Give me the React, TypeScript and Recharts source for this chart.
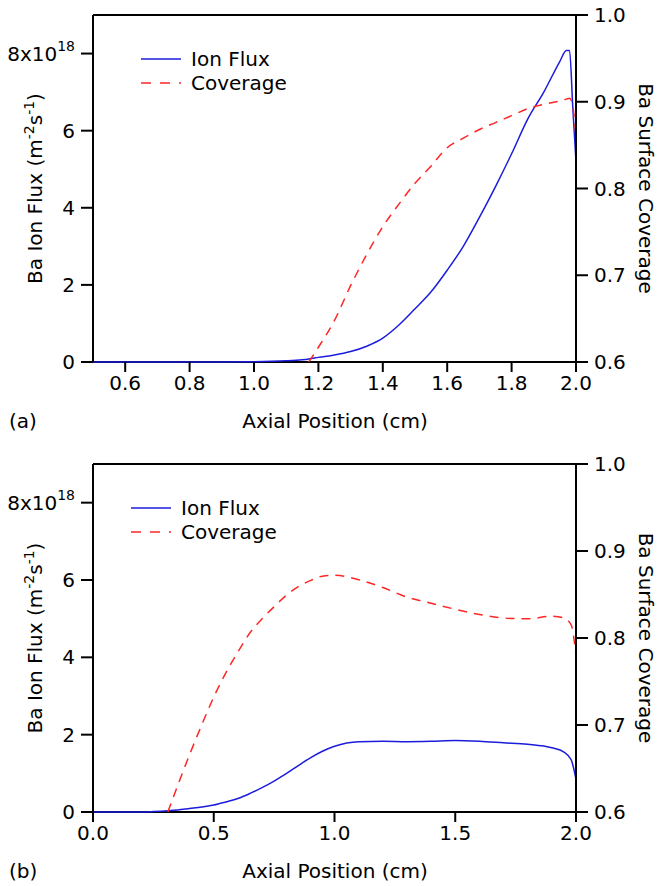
import React from 'react'
import { LineChart, Line, XAxis, YAxis, ReferenceLine, Legend } from 'recharts'

const FONT = '"DejaVu Sans", Verdana, sans-serif'
const FLUX_COLOR = '#1c1cdc'
const COV_COLOR = '#ff2626'

// panel (a): axial position (cm), ion flux (x10^18), coverage
const posA = [0.5, 0.6, 0.7, 0.8, 0.9, 1.0, 1.1, 1.15, 1.17, 1.2, 1.25, 1.3, 1.35, 1.4, 1.45, 1.5, 1.55, 1.6, 1.65, 1.7, 1.75, 1.8, 1.85, 1.9, 1.95, 1.97, 1.98, 1.99, 2.0]
const fluxA = [0, 0, 0, 0, 0, 0.005, 0.03, 0.06, 0.08, 0.12, 0.18, 0.27, 0.41, 0.62, 0.96, 1.38, 1.82, 2.38, 3.0, 3.75, 4.55, 5.4, 6.3, 7.0, 7.8, 8.08, 8.08, 6.6, 5.2]
const covA = [null, null, null, null, null, null, null, null, 0.6, 0.617, 0.648, 0.688, 0.724, 0.756, 0.782, 0.806, 0.826, 0.847, 0.858, 0.868, 0.876, 0.884, 0.892, 0.897, 0.901, 0.903, 0.904, 0.895, 0.86]

// panel (b)
const posB = [0, 0.1, 0.2, 0.25, 0.31, 0.35, 0.4, 0.45, 0.5, 0.55, 0.6, 0.65, 0.7, 0.75, 0.8, 0.85, 0.9, 0.95, 1.0, 1.1, 1.2, 1.3, 1.4, 1.5, 1.6, 1.7, 1.8, 1.9, 1.95, 1.98, 2.0]
const fluxB = [0, 0, 0, 0.01, 0.03, 0.05, 0.09, 0.13, 0.18, 0.26, 0.35, 0.48, 0.63, 0.8, 0.99, 1.2, 1.4, 1.57, 1.7, 1.82, 1.83, 1.82, 1.83, 1.85, 1.83, 1.79, 1.75, 1.66, 1.55, 1.35, 0.85]
const covB = [null, null, null, null, 0.6, 0.63, 0.666, 0.7, 0.732, 0.76, 0.784, 0.806, 0.822, 0.836, 0.849, 0.859, 0.866, 0.871, 0.872, 0.867, 0.858, 0.847, 0.84, 0.833, 0.827, 0.823, 0.822, 0.825, 0.823, 0.815, 0.78]

const fluxTicks = [0, 2, 4, 6, 8]
const covTicks = [0.6, 0.7, 0.8, 0.9, 1.0]
const xTicksA = [0.6, 0.8, 1.0, 1.2, 1.4, 1.6, 1.8, 2.0]
const xTicksB = [0, 0.5, 1.0, 1.5, 2.0]

const dataA = posA.map((x, i) => ({ x, flux: fluxA[i], cov: covA[i] }))
const dataB = posB.map((x, i) => ({ x, flux: fluxB[i], cov: covB[i] }))

const FS = 20
const tickFont = { fill: '#000', fontSize: FS, fontFamily: FONT }
const black = { stroke: '#000', strokeWidth: 2 }

function FluxTick({ x, y, payload }: any) {
  const v = payload.value
  return (
    <text x={x} y={y + 7} textAnchor="end" fontSize={FS} fontFamily={FONT} fill="#000">
      {v === 8 ? (
        <>
          8x10<tspan dy={-10} fontSize={14}>18</tspan>
        </>
      ) : (
        String(v)
      )}
    </text>
  )
}

function LegendBox() {
  const row = { display: 'flex', alignItems: 'center', height: 24 }
  return (
    <div style={{ fontFamily: FONT, fontSize: FS, color: '#000' }}>
      <div style={row}>
        <svg width={40} height={4}>
          <line x1={0} y1={2} x2={40} y2={2} stroke={FLUX_COLOR} strokeWidth={1.5} />
        </svg>
        <span style={{ marginLeft: 10 }}>Ion Flux</span>
      </div>
      <div style={row}>
        <svg width={40} height={4}>
          <line x1={0} y1={2} x2={40} y2={2} stroke={COV_COLOR} strokeWidth={1.5} strokeDasharray="10 9" />
        </svg>
        <span style={{ marginLeft: 10 }}>Coverage</span>
      </div>
    </div>
  )
}

function Titles({ tag, axisY, plotMid }: { tag: string; axisY: number; plotMid: number }) {
  return (
    <svg width={661} height={446} style={{ position: 'absolute', left: 0, top: 0, pointerEvents: 'none' }}>
      <g fontFamily={FONT} fontSize={FS} fill="#000">
        <text x={9} y={axisY + 66}>{tag}</text>
        <text x={335} y={axisY + 66} textAnchor="middle">Axial Position (cm)</text>
        <text x={42} y={plotMid} textAnchor="middle" transform={`rotate(-90, 42, ${plotMid})`}>
          Ba Ion Flux (m<tspan dy={-8} fontSize={14}>-2</tspan><tspan dy={8}>s</tspan><tspan dy={-8} fontSize={14}>-1</tspan><tspan dy={8}>)</tspan>
        </text>
        <text x={639} y={plotMid} textAnchor="middle" transform={`rotate(90, 639, ${plotMid})`}>
          Ba Surface Coverage
        </text>
      </g>
    </svg>
  )
}

function Panel({ data, xDomain, xTicks, top, height, marginTop, xHeight, legendLeft, tag }: any) {
  const axisY = height - xHeight
  const plotMid = (marginTop + axisY) / 2
  return (
    <div style={{ position: 'absolute', left: 0, top, width: 661, height }}>
      <LineChart width={661} height={height} data={data} margin={{ top: marginTop, right: 0, bottom: 0, left: 0 }}>
        <XAxis
          dataKey="x"
          type="number"
          domain={xDomain}
          ticks={xTicks}
          allowDataOverflow
          tickFormatter={(v: number) => v.toFixed(1)}
          height={xHeight}
          tickSize={10}
          tickMargin={4}
          axisLine={false}
          tickLine={black}
          tick={tickFont}
        />
        <YAxis
          yAxisId="flux"
          domain={[0, 9]}
          ticks={fluxTicks}
          width={93}
          tickSize={12}
          tickMargin={6}
          axisLine={black}
          tickLine={black}
          tick={<FluxTick />}
        />
        <YAxis
          yAxisId="cov"
          orientation="right"
          domain={[0.6, 1.0]}
          ticks={covTicks}
          allowDataOverflow
          width={85}
          tickSize={12}
          tickMargin={6}
          tickFormatter={(v: number) => v.toFixed(1)}
          axisLine={black}
          tickLine={black}
          tick={tickFont}
        />
        <ReferenceLine yAxisId="flux" y={9} stroke="#000" strokeWidth={2} ifOverflow="visible" />
        <ReferenceLine yAxisId="flux" y={0} stroke="#000" strokeWidth={2} ifOverflow="visible" />
        <Legend
          layout="vertical"
          verticalAlign="middle"
          align="center"
          content={() => <LegendBox />}
          wrapperStyle={{ left: legendLeft, top: marginTop + 32, width: 200 }}
        />
        <Line
          yAxisId="flux"
          type="monotone"
          dataKey="flux"
          stroke={FLUX_COLOR}
          strokeWidth={1.5}
          dot={false}
          isAnimationActive={false}
        />
        <Line
          yAxisId="cov"
          type="monotone"
          dataKey="cov"
          stroke={COV_COLOR}
          strokeWidth={1.5}
          strokeDasharray="9 7"
          dot={false}
          isAnimationActive={false}
        />
      </LineChart>
      <Titles tag={tag} axisY={axisY} plotMid={plotMid} />
    </div>
  )
}

export default function App() {
  return (
    <div style={{ position: 'absolute', left: 0, top: 0, width: 661, height: 886, background: '#fff' }}>
      <Panel data={dataA} xDomain={[0.5, 2.0]} xTicks={xTicksA} top={0} height={440} marginTop={15} xHeight={78} legendLeft={141} tag="(a)" />
      <Panel data={dataB} xDomain={[0, 2.0]} xTicks={xTicksB} top={440} height={446} marginTop={24} xHeight={74} legendLeft={131} tag="(b)" />
    </div>
  )
}
